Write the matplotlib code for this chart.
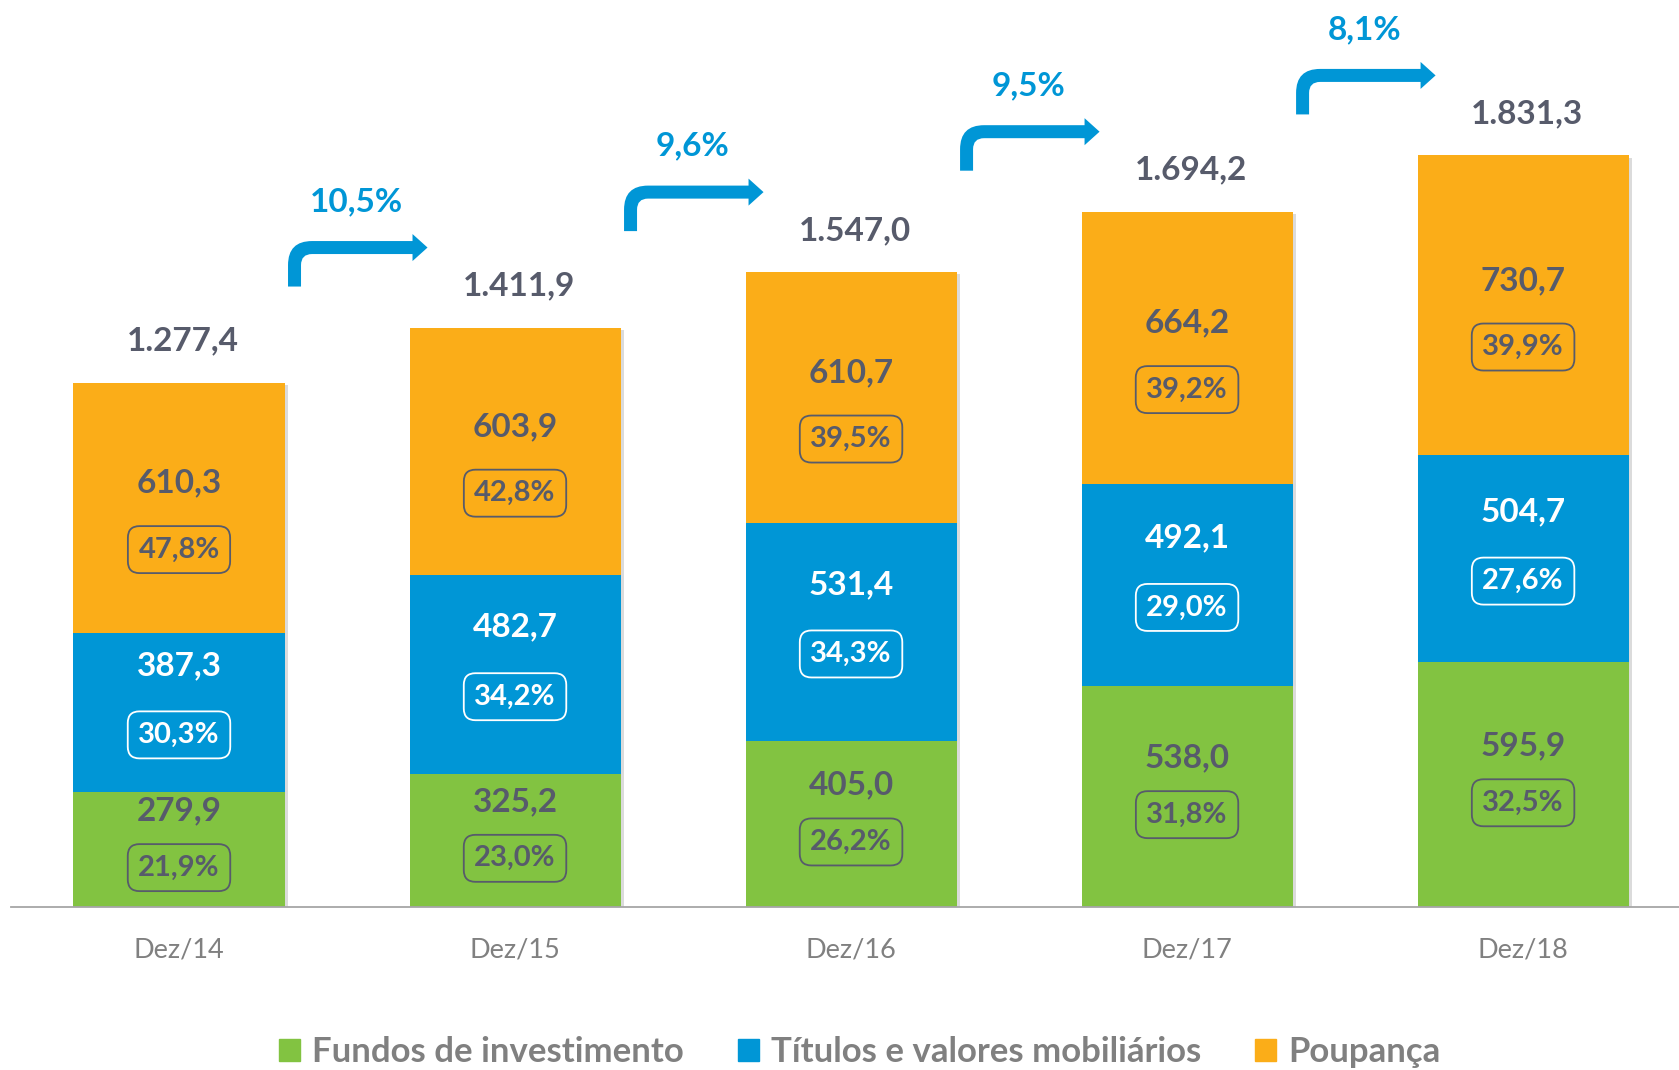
import numpy as np
import matplotlib
matplotlib.use("Agg")
import matplotlib.pyplot as plt
import matplotlib.patheffects as pe
from matplotlib.patches import Patch, PathPatch
from matplotlib.path import Path

# %% dados

periodos = ["Dez/14", "Dez/15", "Dez/16", "Dez/17", "Dez/18"]
fundos = [279.9, 325.2, 405.0, 538.0, 595.9]
titulos = [387.3, 482.7, 531.4, 492.1, 504.7]
poupanca = [610.3, 603.9, 610.7, 664.2, 730.7]
totais = [1277.4, 1411.9, 1547.0, 1694.2, 1831.3]
pct_fundos = [21.9, 23.0, 26.2, 31.8, 32.5]
pct_titulos = [30.3, 34.2, 34.3, 29.0, 27.6]
pct_poupanca = [47.8, 42.8, 39.5, 39.2, 39.9]
crescimento = [10.5, 9.6, 9.5, 8.1]
series = ["Fundos de investimento", "Títulos e valores mobiliários", "Poupança"]

cor_fundos = "#82c341"
cor_titulos = "#0096d6"
cor_poupanca = "#fbad18"
cinza = "#575b6b"
cinza_claro = "#808080"


def br(v):
    s = f"{v:,.1f}"
    return s.replace(",", "#").replace(".", ",").replace("#", ".")


plt.rcParams["font.family"] = ["Lato", "DejaVu Sans"]

# %% figura

fig = plt.figure(figsize=(16.79, 10.70), dpi=100)
ax = fig.add_axes([11 / 1679, 163 / 1070, 1668 / 1679, 907 / 1070])
x = np.arange(len(periodos))
largura = 0.628
ax.set_xlim(-0.5, 4.464)
ax.set_ylim(0, 2210)

# sombra das barras
ax.bar(x, totais, largura, color="white", zorder=1,
       path_effects=[pe.SimplePatchShadow(offset=(2.5, -1.5), shadow_rgbFace="k", alpha=0.14)])

# deslocamento (pt) do valor e do percentual em relação ao centro do segmento
base = np.zeros(len(x))
for valores, pcts, cor, cor_txt, dv, dp in [
    (fundos, pct_fundos, cor_fundos, cinza, 28, -13),
    (titulos, pct_titulos, cor_titulos, "white", 34, -16),
    (poupanca, pct_poupanca, cor_poupanca, cinza, 18, -30),
]:
    ax.bar(x, valores, largura, bottom=base, color=cor, zorder=2)
    centros = base + np.array(valores) / 2
    for xi, yc, v, p in zip(x, centros, valores, pcts):
        ax.annotate(br(v), (xi, yc), xytext=(0, dv), textcoords="offset points",
                    ha="center", va="center", fontsize=24, fontweight="bold",
                    color=cor_txt, zorder=4)
        ax.annotate(br(p) + "%", (xi, yc), xytext=(0, dp), textcoords="offset points",
                    ha="center", va="center", fontsize=21, fontweight="bold",
                    color=cor_txt, zorder=4,
                    bbox=dict(boxstyle="round,pad=0.36,rounding_size=0.4",
                              fc="none", ec=cor_txt, lw=1.3))
    base = base + np.array(valores)

for xi, t in zip(x, totais):
    ax.annotate(br(t), (xi, t), xytext=(3, 30), textcoords="offset points",
                ha="center", va="center", fontsize=24, fontweight="bold", color=cinza)


# %% setas de crescimento

def seta(x0, y0, x1, y1, t=13, R=24, hl=15, hw=13.5):
    r = R - t
    a, b = x0 - t / 2, x0 + t / 2
    top, bot = y1 + t / 2, y1 - t / 2
    verts = [(a, y0), (a, top - R), (a, top), (a + R, top), (x1 - hl, top),
             (x1 - hl, y1 + hw), (x1, y1), (x1 - hl, y1 - hw), (x1 - hl, bot),
             (b + r, bot), (b, bot), (b, bot - r), (b, y0), (a, y0)]
    codes = [Path.MOVETO, Path.LINETO, Path.CURVE3, Path.CURVE3, Path.LINETO,
             Path.LINETO, Path.LINETO, Path.LINETO, Path.LINETO,
             Path.LINETO, Path.CURVE3, Path.CURVE3, Path.LINETO, Path.CLOSEPOLY]
    return verts, codes


inv = ax.transData.inverted()
for i, g in enumerate(crescimento):
    sx = ax.transData.transform((i + largura / 2, 0))[0] + 10
    tx = sx + 133
    yh = ax.transData.transform((0, totais[i + 1]))[1] + 80
    verts, codes = seta(sx, yh - 39, tx, yh)
    ax.add_patch(PathPatch(Path(inv.transform(verts), codes), fc=cor_titulos,
                           ec="none", zorder=3, clip_on=False))
    lx, ly = inv.transform((sx + 62, yh + 46))
    ax.text(lx, ly, br(g) + "%", ha="center", va="center", fontsize=24,
            fontweight="bold", color=cor_titulos)

# %% eixos

ax.set_xticks(x, periodos)
ax.tick_params(axis="x", length=0, pad=22, labelsize=19.5, labelcolor=cinza_claro)
ax.set_yticks([])
for lado in ["top", "right", "left"]:
    ax.spines[lado].set_visible(False)
ax.spines["bottom"].set_color("#a6a6a6")
ax.spines["bottom"].set_linewidth(1.3)

handles = [Patch(color=c) for c in [cor_fundos, cor_titulos, cor_poupanca]]
fig.legend(handles, series, loc="center", bbox_to_anchor=(0.512, 0.017), ncol=3,
           frameon=False, handlelength=0.6, handleheight=0.6, handletextpad=0.35,
           columnspacing=1.55, labelcolor=cinza_claro,
           prop=dict(family="Lato", weight="bold", size=25))

fig.savefig("out.png", dpi=100)
